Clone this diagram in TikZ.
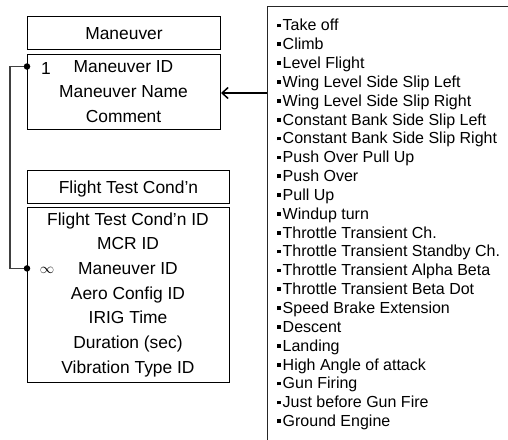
\documentclass[tikz,border=0pt]{standalone}
\usepackage{fontspec}
\setmainfont{Liberation Sans}
\usetikzlibrary{arrows.meta}
\begin{document}
\begin{tikzpicture}[x=1pt,y=-1pt,
  box/.style={draw=black,line width=1pt,rectangle,inner sep=0pt,anchor=north west},
  rowtxt/.style={font=\fontsize{17.4}{20}\selectfont,inner sep=0pt,text height=12pt,text depth=0pt,anchor=center},
  listtxt/.style={font=\fontsize{16}{19}\selectfont,inner sep=0pt,text height=11.5pt,text depth=0pt,anchor=west},
  link/.style={draw=black!75,line width=1.3pt},
  dot/.style={circle,fill=black,inner sep=0pt,minimum size=6.5pt},
]
\useasboundingbox (0,0) rectangle (508,439);
\clip (0,0) rectangle (508,439);
\newcommand{\sqbul}{\rule[3.5pt]{3.7pt}{3.7pt}\hspace{1.8pt}}
% Maneuver table
\node[box,minimum width=193pt,minimum height=33pt] (mtitle) at (27,16) {};
\node[rowtxt] (mtitletxt) at (mtitle.center) {Maneuver};
\node[box,minimum width=193pt,minimum height=75pt] (mattr) at (27,54) {};
\foreach \t [count=\i] in {Maneuver ID,Maneuver Name,Comment}
  \node[rowtxt] (mrow\i) at (123.5,{66.5+(\i-1)*25}) {\t};
% Flight Test Cond'n table
\node[box,minimum width=202pt,minimum height=33pt] (ftitle) at (27,170) {};
\node[rowtxt] (ftitletxt) at (ftitle.center) {Flight Test Cond’n};
\node[box,minimum width=202pt,minimum height=175pt] (fattr) at (27,207) {};
\foreach \t [count=\i] in {Flight Test Cond’n ID,MCR ID,Maneuver ID,Aero Config ID,IRIG Time,Duration (sec),Vibration Type ID}
  \node[rowtxt] (frow\i) at (128,{219+(\i-1)*24.7}) {\t};
% list box (cropped at right and bottom)
\node[draw=black!85,line width=1.3pt,rectangle,anchor=north west,minimum width=300pt,minimum height=500pt,inner sep=0pt] (list) at (267,6) {};
\foreach \t [count=\i] in {Take off,Climb,Level Flight,Wing Level Side Slip Left,Wing Level Side Slip Right,Constant Bank Side Slip Left,Constant Bank Side Slip Right,Push Over Pull Up,Push Over,Pull Up,Windup turn,Throttle Transient Ch.,Throttle Transient Standby Ch.,Throttle Transient Alpha Beta,Throttle Transient Beta Dot,Speed Brake Extension,Descent,Landing,High Angle of attack,Gun Firing,Just before Gun Fire,Ground Engine}
  \node[listtxt] (item\i) at (277,{25+(\i-1)*18.85}) {\sqbul\t};
% arrow from list to Maneuver
\coordinate (arrowy) at (0,93);
\draw[line width=1.5pt,-{Straight Barb[length=6pt,width=11pt,line width=1.5pt]}] (list.west |- arrowy) -- (mattr.east |- arrowy);
% relationship connector
\coordinate (d1) at (mattr.west |- mrow1);
\coordinate (d2) at (fattr.west |- frow3);
\coordinate (bend) at (10,0);
\draw[link] (d1) -- (d1 -| bend) |- (d2);
\node[dot] (dot1) at (d1) {};
\node[dot] (dot2) at (d2) {};
\node[rowtxt] (one) at (46,68) {1};
\node[inner sep=0pt,font=\fontsize{15}{18}\selectfont] (inf) at (47,270) {$\infty$};
\end{tikzpicture}
\end{document}
